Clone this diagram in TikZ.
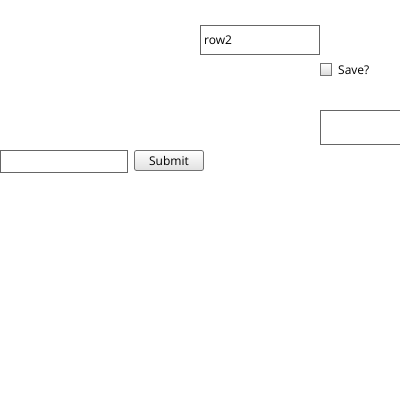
\documentclass[tikz,border=0pt]{standalone}
\usepackage{fontspec}
\setmainfont{Open Sans}
\begin{document}
\begin{tikzpicture}[x=1pt,y=-1pt,
  field/.style={draw=black!60,line width=1pt,fill=white},
  btn/.style={draw=black!55,line width=0.8pt,rounded corners=2pt,top color=white,bottom color=black!12},
  lbl/.style={font=\fontsize{12}{14}\selectfont,inner sep=0pt,anchor=west}]
\useasboundingbox (0,0) rectangle (400,400);
\draw[field] (200.5,25.5) rectangle (319.5,54.5);
\node[lbl] (row2) at (204,40) {row2};
\draw[draw=black!55,line width=0.8pt,top color=white,bottom color=black!15] (320.5,63.5) rectangle (331.5,75.5);
\node[lbl] (save) at (338,70.5) {Save?};
\draw[field] (401,110.5) -- (320.5,110.5) -- (320.5,144.5) -- (401,144.5);
\draw[field] (0.5,150.5) rectangle (127.5,172.5);
\draw[btn] (134.5,150.5) rectangle (203.5,170.5);
\node[lbl,anchor=center] (submit) at (169,160.5) {Submit};
\end{tikzpicture}
\end{document}
